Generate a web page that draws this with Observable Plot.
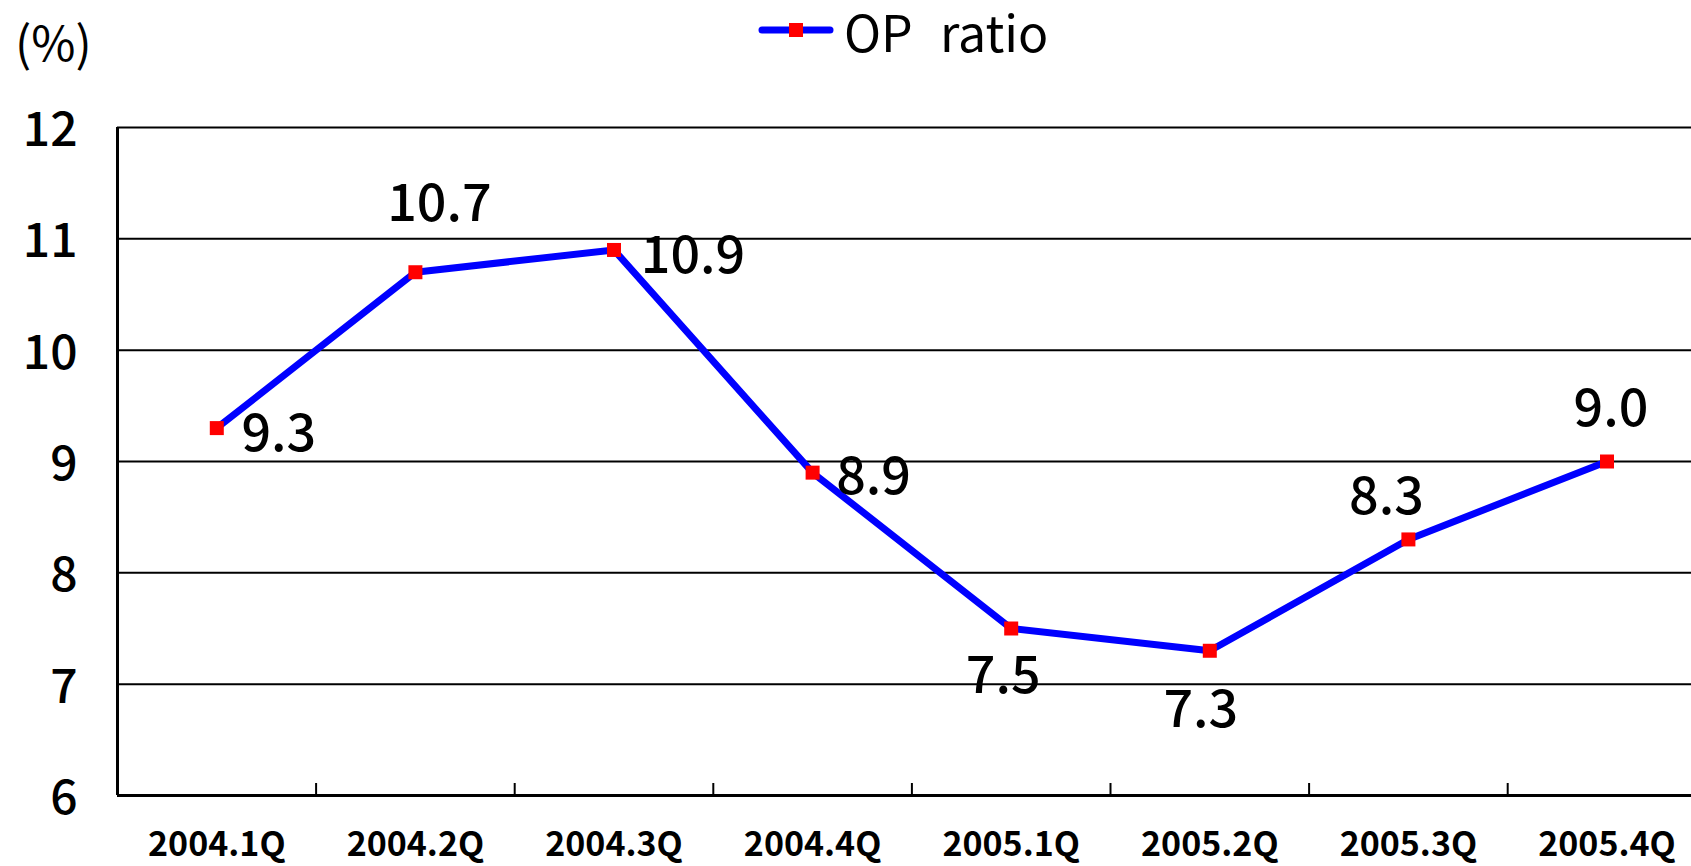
<!DOCTYPE html>
<html>
<head>
<meta charset="utf-8">
<script src="https://cdn.jsdelivr.net/npm/d3@7"></script>
<script src="https://cdn.jsdelivr.net/npm/@observablehq/plot@0.6"></script>
<style>
  html, body { margin: 0; padding: 0; background: #fff; overflow: hidden; }
  #wrap { position: relative; width: 1691px; height: 866px; font-family: "Noto Sans CJK JP", "Noto Sans", sans-serif; }
  #unit { position: absolute; left: 15px; top: 14px; font-size: 48px; color: #000; line-height: 1.1; }
  #legend { position: absolute; left: 758px; top: 0px; display: flex; align-items: center; font-size: 50px; color: #000; line-height: 1.2; }
  #legend span { word-spacing: 16px; margin-left: 10px; }
</style>
</head>
<body>
<div id="wrap">
  <div id="chart"></div>
  <div id="unit">(%)</div>
  <div id="legend"></div>
</div>
<script>
const categories = ["2004.1Q", "2004.2Q", "2004.3Q", "2004.4Q", "2005.1Q", "2005.2Q", "2005.3Q", "2005.4Q"];
const opRatio = [9.3, 10.7, 10.9, 8.9, 7.5, 7.3, 8.3, 9.0];
const yTicks = [6, 7, 8, 9, 10, 11, 12];
const seriesName = "OP ratio";

const data = categories.map((c, i) => ({cat: c, idx: i + 0.5, value: opRatio[i]}));
const boundaries = d3.range(1, categories.length);

// label placement (pixel offsets from each point), styling only
const labelOffsets = [[62, 6], [24, -68], [79, 6], [61, 5], [-8, 48], [-9, 60], [-22, -42], [4, -52]];

const font = "Noto Sans CJK JP, Noto Sans, sans-serif";

const chart = Plot.plot({
  width: 1691,
  height: 866,
  marginTop: 127,
  marginBottom: 71,
  marginLeft: 117,
  marginRight: 0,
  style: {fontFamily: font, background: "#fff"},
  x: {type: "linear", domain: [0, categories.length], range: [117, 117 + 198.6 * categories.length]},
  y: {domain: [6, 12], ticks: yTicks},
  marks: [
    Plot.ruleY(yTicks.filter(t => t > 6), {stroke: "#000", strokeWidth: 2}),
    Plot.ruleY([6], {stroke: "#000", strokeWidth: 3}),
    Plot.ruleX([0], {y1: 6, y2: 12, stroke: "#000", strokeWidth: 3}),
    Plot.ruleX(boundaries, {x: d => d, y1: 6, y2: 6, insetTop: -12, stroke: "#000", strokeWidth: 2}),
    Plot.axisY({ticks: yTicks, tickSize: 0, tickPadding: 40, fontSize: 48, fontWeight: 500, tickFormat: d => String(d), dy: 3, label: null}),
    Plot.axisX({ticks: [], tickSize: 0, label: null}),
    Plot.text(data, {x: "idx", y: () => 6, text: "cat", dy: 50, fontSize: 34, fontWeight: "bold", lineAnchor: "middle", textAnchor: "middle", fill: "#000"}),
    Plot.line(data, {x: "idx", y: "value", stroke: "#0000FF", strokeWidth: 7, strokeLinejoin: "miter"}),
    Plot.dot(data, {x: "idx", y: "value", symbol: "square", r: 7.9, fill: "#FF0000", stroke: "none"}),
    ...data.map((d, i) => Plot.text([d], {
      x: "idx", y: "value", text: dd => dd.value.toFixed(1),
      dx: labelOffsets[i][0], dy: labelOffsets[i][1],
      fontSize: 52, fontWeight: 500, textAnchor: "middle", lineAnchor: "middle", fill: "#000"
    }))
  ]
});
document.getElementById("chart").appendChild(chart);

const legend = document.getElementById("legend");
legend.innerHTML = `<svg width="76" height="20" viewBox="0 0 76 20">
  <line x1="4" y1="10" x2="72" y2="10" stroke="#0000FF" stroke-width="7" stroke-linecap="round"/>
  <rect x="31" y="3" width="14" height="14" fill="#FF0000"/>
</svg><span>${seriesName}</span>`;
</script>
</body>
</html>
